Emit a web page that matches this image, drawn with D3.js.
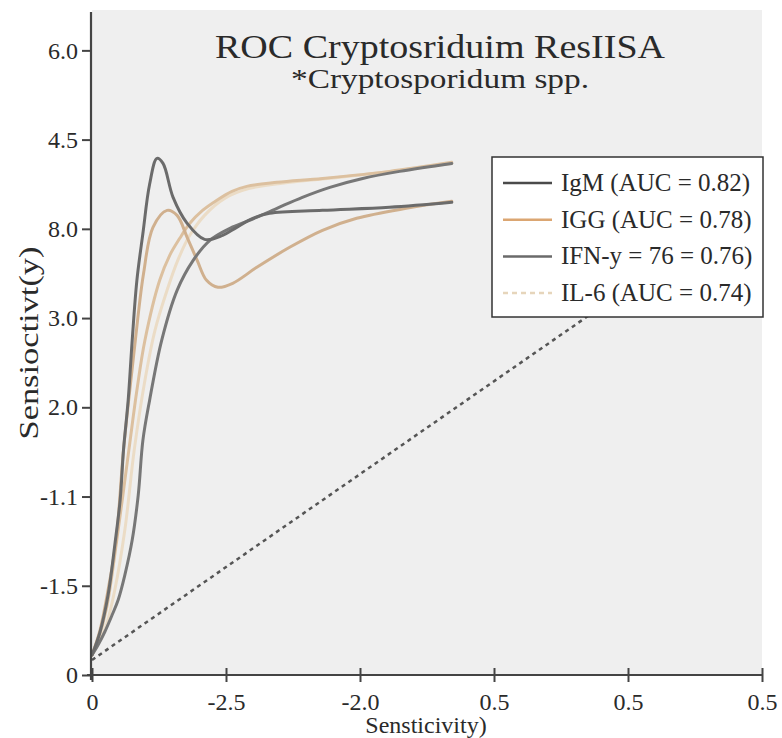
<!DOCTYPE html>
<html>
<head>
<meta charset="utf-8">
<script src="https://cdn.jsdelivr.net/npm/d3@7"></script>
</head>
<body style="margin:0; background:#fff">
<svg id="chart" width="782" height="738"></svg>
<script>
// tick positions and their (odd) printed labels
const xTickPos = [0, 0.2, 0.4, 0.6, 0.8, 1]
const xTickLabels = ["0", "-2.5", "-2.0", "0.5", "0.5", "0.5"]
const yTickPos = [0, 1, 2, 3, 4, 5, 6, 7]
const yTickLabels = ["0", "-1.5", "-1.1", "2.0", "3.0", "8.0", "4.5", "6.0"]

// curves, [x, y] in axis units
const igmPts = [[0,0.224],[0.012,0.482],[0.024,0.896],[0.034,1.456],[0.042,1.96],[0.047,2.52],[0.054,3.08],[0.06,3.751],[0.067,4.423],[0.076,4.95],[0.086,5.5],[0.097,5.79],[0.106,5.733],[0.121,5.353],[0.142,5.062],[0.168,4.882],[0.195,4.927],[0.216,5.017],[0.24,5.117],[0.265,5.174],[0.344,5.207],[0.444,5.241],[0.537,5.297]]
const iggPts = [[0,0.224],[0.012,0.504],[0.024,0.952],[0.036,1.512],[0.047,2.52],[0.058,3.303],[0.068,3.975],[0.077,4.502],[0.091,5.017],[0.112,5.207],[0.127,5.151],[0.142,4.905],[0.157,4.647],[0.171,4.423],[0.188,4.345],[0.21,4.39],[0.246,4.569],[0.295,4.793],[0.344,4.983],[0.395,5.118],[0.469,5.23],[0.537,5.308]]
const ifnPts = [[0,0.224],[0.009,0.336],[0.019,0.482],[0.03,0.672],[0.039,0.84],[0.049,1.12],[0.06,1.512],[0.069,2.016],[0.076,2.632],[0.086,3.08],[0.104,3.751],[0.127,4.311],[0.151,4.647],[0.176,4.871],[0.206,5.006],[0.235,5.095],[0.276,5.23],[0.314,5.353],[0.355,5.465],[0.404,5.565],[0.459,5.644],[0.537,5.733]]
const tanPts = [[0,0.224],[0.009,0.392],[0.022,0.761],[0.037,1.512],[0.055,2.52],[0.067,3.191],[0.079,3.751],[0.101,4.423],[0.116,4.703],[0.131,4.894],[0.146,5.062],[0.165,5.207],[0.186,5.319],[0.209,5.42],[0.231,5.476],[0.276,5.521],[0.344,5.565],[0.444,5.644],[0.537,5.745]]
const il6Pts = [[0,0.224],[0.019,0.504],[0.034,0.952],[0.049,1.624],[0.063,2.52],[0.079,3.303],[0.094,3.863],[0.112,4.311],[0.128,4.647],[0.146,4.927],[0.168,5.151],[0.198,5.341],[0.235,5.453],[0.295,5.521],[0.37,5.577],[0.459,5.655],[0.537,5.733]]
const chancePts = [[0,0.168],[1,5.375]]

const legendNames = ["IgM (AUC = 0.82)", "IGG (AUC = 0.78)", "IFN-y = 76 = 0.76)", "IL-6 (AUC = 0.74)"]
const legendColors = ["#4a4a4a", "#dba672", "#6a6a6a", "#e6d5bb"]

const ink = "#2a2a2a"
// put the serif face straight on a text node
function serifText(sel, size) {
  return sel.attr("font-family", "Liberation Serif")
    .attr("font-size", size)
    .attr("fill", ink)
}

const svg = d3.select("#chart")
const mLeft = 92, mRight = 762, mTop = 12, mBottom = 675

const x = d3.scaleLinear().domain([0, 1]).range([mLeft, mRight])
const y = d3.scaleLinear().domain([0, 7.43]).range([mBottom, mTop])

svg.append("rect")
  .attr("x", mLeft).attr("y", 10)
  .attr("width", mRight - mLeft).attr("height", mBottom - 10)
  .attr("fill", "#efefef")

const line = d3.line()
  .x(d => x(d[0]))
  .y(d => y(d[1]))
  .curve(d3.curveCatmullRom.alpha(0.5))

// chance line
svg.append("path")
  .attr("d", d3.line().x(d => x(d[0])).y(d => y(d[1]))(chancePts))
  .attr("fill", "none")
  .attr("stroke", "#555")
  .attr("stroke-width", 2.5)
  .attr("stroke-dasharray", "4,4")

const curves = [
  {pts: il6Pts, color: "#ebdcc6", w: 3},
  {pts: tanPts, color: "#dcc09f", w: 3},
  {pts: iggPts, color: "#d0b08e", w: 3},
  {pts: ifnPts, color: "#777", w: 3},
  {pts: igmPts, color: "#6b6b6b", w: 3}
]
curves.forEach(c => {
  svg.append("path")
    .attr("d", line(c.pts))
    .attr("fill", "none")
    .attr("stroke", c.color)
    .attr("stroke-width", c.w)
    .attr("stroke-linecap", "round")
})

// axes
const xAxis = d3.axisBottom(x)
  .tickValues(xTickPos)
  .tickFormat((d, i) => xTickLabels[i])
  .tickSize(7)
  .tickPadding(11)
const gx = svg.append("g").attr("transform", `translate(0,${mBottom})`).call(xAxis)
gx.attr("font-family", null).attr("font-size", null)
gx.select(".domain").remove()
gx.selectAll(".tick line").attr("y1", -7).attr("stroke", "#444").attr("stroke-width", 2)
serifText(gx.selectAll(".tick text"), 24)

const yAxis = d3.axisLeft(y)
  .tickValues(yTickPos)
  .tickFormat((d, i) => yTickLabels[i])
  .tickSize(9)
  .tickPadding(4)
const gy = svg.append("g").attr("transform", `translate(${mLeft - 1},0)`).call(yAxis)
gy.attr("font-family", null).attr("font-size", null)
gy.select(".domain").remove()
gy.selectAll(".tick line").attr("stroke", "#444").attr("stroke-width", 2)
serifText(gy.selectAll(".tick text"), 24)

svg.append("line")
  .attr("x1", mLeft - 1).attr("x2", mLeft - 1)
  .attr("y1", mTop).attr("y2", mBottom + 5)
  .attr("stroke", "#444").attr("stroke-width", 2.2)
svg.append("line")
  .attr("x1", mLeft - 5).attr("x2", mRight + 1)
  .attr("y1", mBottom).attr("y2", mBottom)
  .attr("stroke", "#444").attr("stroke-width", 2.2)

// titles
serifText(svg.append("text"), 34)
  .attr("x", 440).attr("y", 58)
  .attr("text-anchor", "middle")
  .attr("textLength", 450).attr("lengthAdjust", "spacingAndGlyphs")
  .text("ROC Cryptosriduim ResIISA")
serifText(svg.append("text"), 27)
  .attr("x", 440).attr("y", 88)
  .attr("text-anchor", "middle")
  .attr("textLength", 298).attr("lengthAdjust", "spacingAndGlyphs")
  .text("*Cryptosporidum spp.")

serifText(svg.append("text"), 24)
  .attr("x", 426).attr("y", 733)
  .attr("text-anchor", "middle")
  .text("Sensticivity)")
serifText(svg.append("text"), 27)
  .attr("transform", "translate(38,343) rotate(-90)")
  .attr("text-anchor", "middle")
  .attr("textLength", 193).attr("lengthAdjust", "spacingAndGlyphs")
  .text("Sensioctivt(y)")

// legend
const lg = svg.append("g")
lg.append("rect")
  .attr("x", 492).attr("y", 157)
  .attr("width", 271).attr("height", 160)
  .attr("fill", "#fff")
  .attr("stroke", "#333")
  .attr("stroke-width", 1.5)
legendNames.forEach((name, i) => {
  const cy = 183 + i * 36.7
  lg.append("line")
    .attr("x1", 503).attr("x2", 552)
    .attr("y1", cy).attr("y2", cy)
    .attr("stroke", legendColors[i])
    .attr("stroke-width", 2.5)
    .attr("stroke-dasharray", i == 3 ? "5,4" : null)
  serifText(lg.append("text"), 25)
    .attr("x", 561).attr("y", cy + 8)
    .text(name)
})

// empty holder, keeps the page rendered as html
svg.append("foreignObject").attr("x", 0).attr("y", 0).attr("width", 1).attr("height", 1)
  .append("xhtml:div")
</script>
</body>
</html>
